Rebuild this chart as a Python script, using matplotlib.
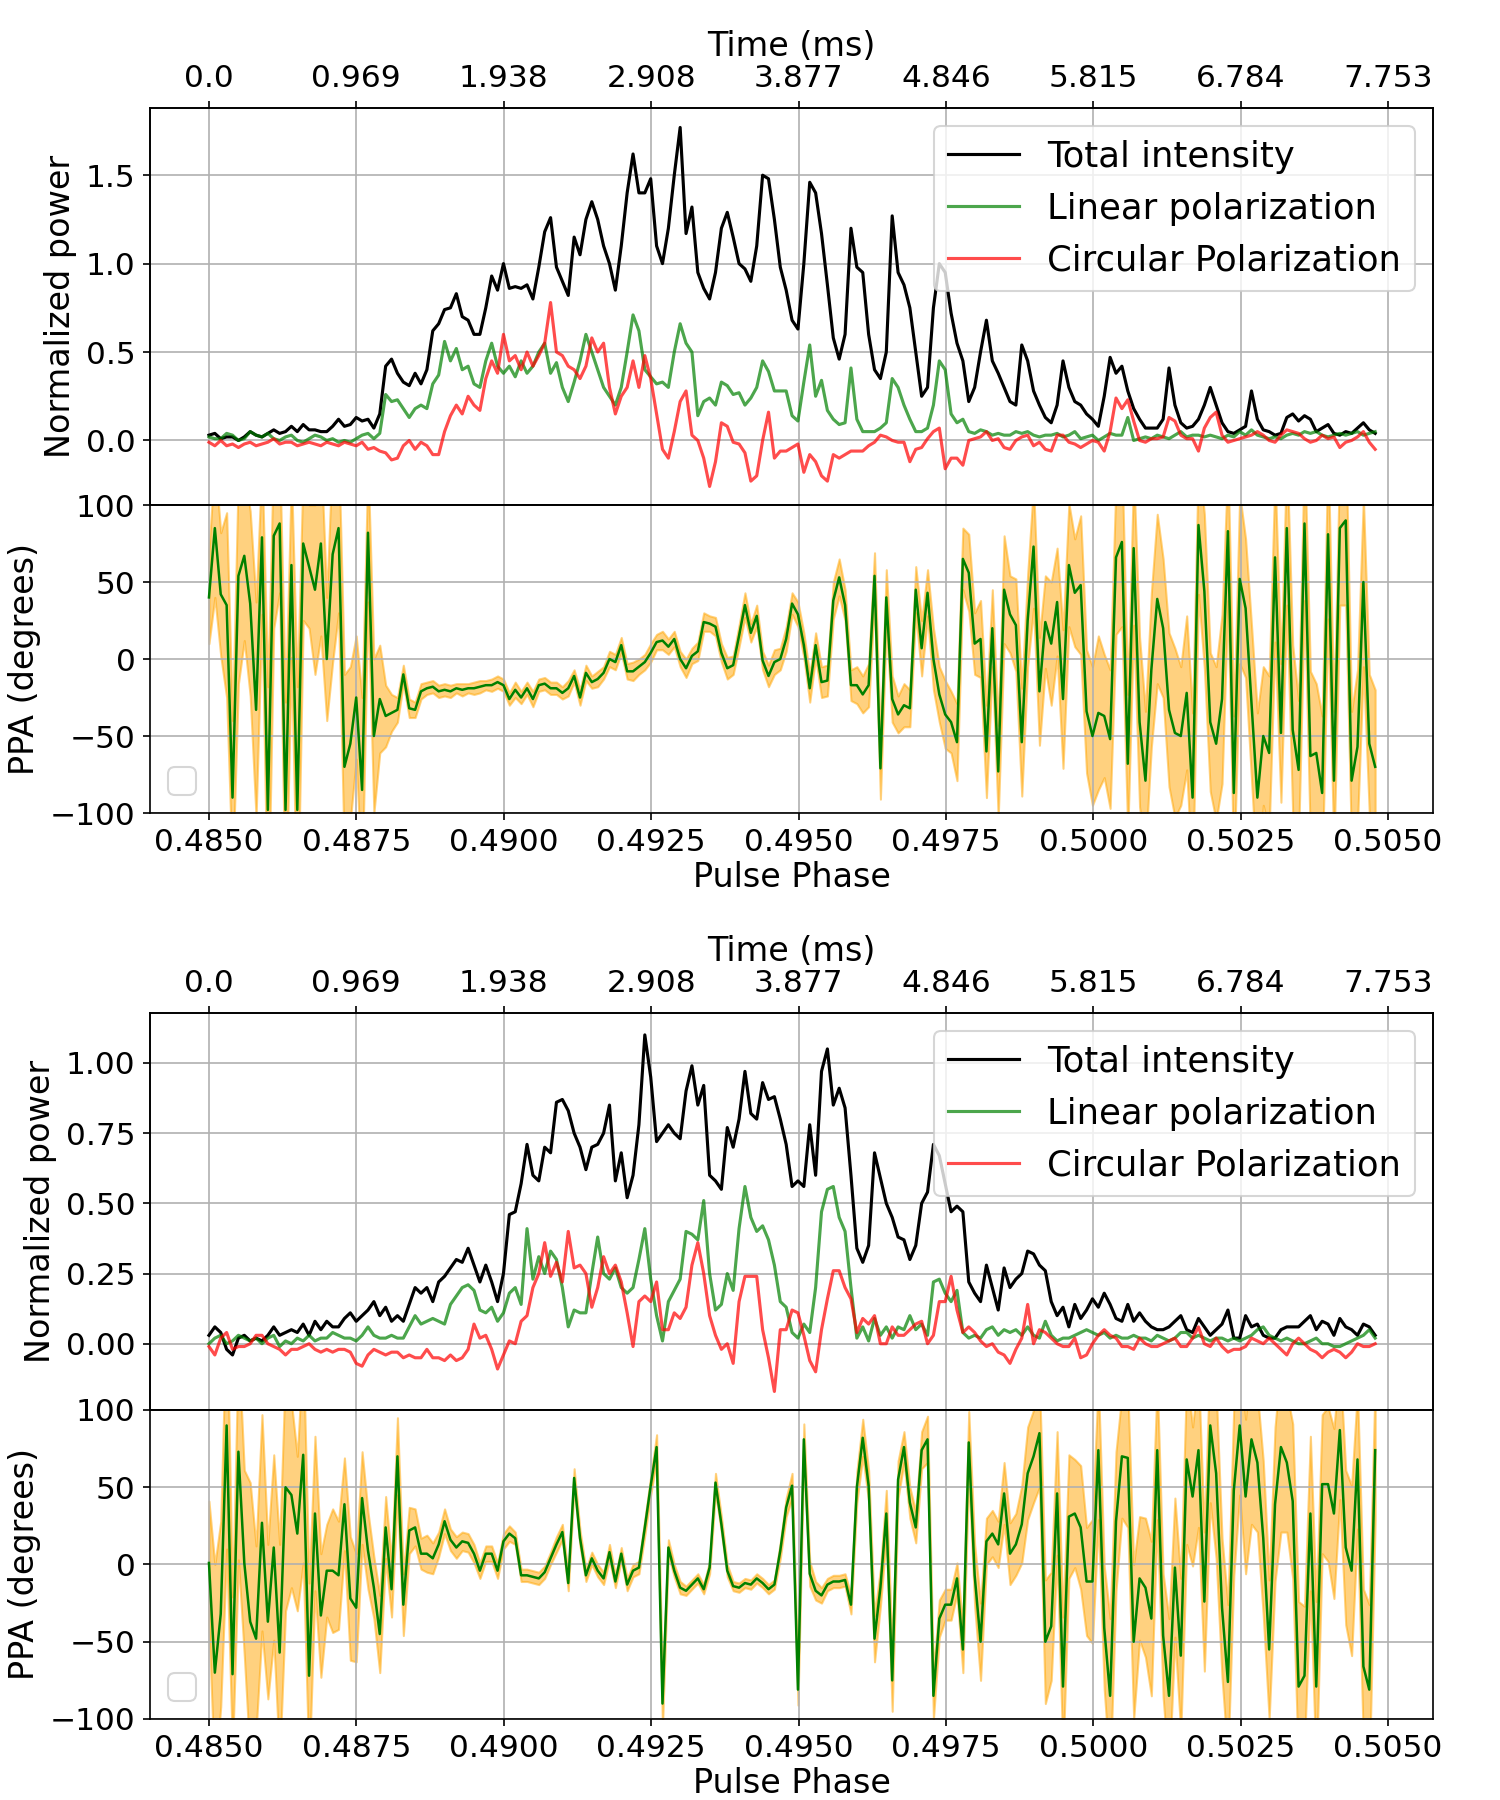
import numpy as np
import matplotlib
matplotlib.use('Agg')
import matplotlib.pyplot as plt

# pulse phase range covered by the profile
PHASE_START = 0.485
PHASE_END = 0.50478

phase_ticks = [0.485, 0.4875, 0.49, 0.4925, 0.495, 0.4975, 0.5, 0.5025, 0.505]
phase_labels = ['0.4850', '0.4875', '0.4900', '0.4925', '0.4950',
                '0.4975', '0.5000', '0.5025', '0.5050']
time_labels = ['0.0', '0.969', '1.938', '2.908', '3.877',
               '4.846', '5.815', '6.784', '7.753']

# ---- first pulse ----
I1 = [0.03, 0.04, 0.01, 0.02, 0.02, 0.00, 0.02, 0.05, 0.03, 0.02,
      0.04, 0.06, 0.04, 0.05, 0.08, 0.05, 0.09, 0.06, 0.06, 0.05,
      0.05, 0.08, 0.12, 0.08, 0.09, 0.13, 0.11, 0.12, 0.07, 0.15,
      0.42, 0.46, 0.38, 0.33, 0.31, 0.38, 0.32, 0.40, 0.62, 0.66,
      0.74, 0.75, 0.83, 0.70, 0.68, 0.60, 0.60, 0.75, 0.93, 0.85,
      1.00, 0.86, 0.87, 0.86, 0.88, 0.80, 0.98, 1.18, 1.26, 0.98,
      0.90, 0.82, 1.15, 1.05, 1.25, 1.35, 1.25, 1.10, 1.00, 0.85,
      1.10, 1.40, 1.62, 1.40, 1.40, 1.48, 1.10, 1.00, 1.20, 1.50,
      1.77, 1.17, 1.32, 0.95, 0.86, 0.80, 0.95, 1.20, 1.29, 1.15,
      1.00, 0.97, 0.90, 1.10, 1.50, 1.48, 1.25, 0.98, 0.85, 0.68,
      0.63, 1.00, 1.46, 1.40, 1.17, 0.88, 0.58, 0.46, 0.60, 1.20,
      0.98, 0.95, 0.60, 0.40, 0.35, 0.50, 1.27, 0.95, 0.88, 0.75,
      0.50, 0.25, 0.30, 0.75, 1.00, 0.95, 0.72, 0.55, 0.45, 0.22,
      0.30, 0.50, 0.68, 0.45, 0.38, 0.30, 0.22, 0.20, 0.54, 0.45,
      0.28, 0.20, 0.13, 0.10, 0.20, 0.45, 0.30, 0.22, 0.20, 0.15,
      0.12, 0.08, 0.25, 0.47, 0.38, 0.42, 0.28, 0.18, 0.12, 0.07,
      0.07, 0.07, 0.12, 0.41, 0.20, 0.10, 0.07, 0.08, 0.12, 0.20,
      0.30, 0.20, 0.10, 0.05, 0.04, 0.06, 0.08, 0.28, 0.12, 0.06,
      0.05, 0.03, 0.04, 0.13, 0.15, 0.11, 0.14, 0.12, 0.05, 0.07,
      0.09, 0.04, 0.03, 0.05, 0.04, 0.07, 0.10, 0.06, 0.04]
L1 = [0.02, 0.01, 0.01, 0.04, 0.03, 0.00, 0.01, 0.05, 0.03, 0.02,
      0.04, 0.01, 0.00, 0.02, 0.03, 0.00, -0.01, 0.01, 0.03, 0.02,
      0.00, 0.01, -0.01, 0.00, -0.01, 0.01, 0.03, 0.04, 0.01, 0.04,
      0.26, 0.22, 0.23, 0.18, 0.13, 0.18, 0.20, 0.18, 0.32, 0.37,
      0.56, 0.45, 0.52, 0.40, 0.42, 0.32, 0.30, 0.45, 0.55, 0.42,
      0.38, 0.42, 0.36, 0.45, 0.38, 0.42, 0.50, 0.55, 0.38, 0.44,
      0.30, 0.22, 0.33, 0.45, 0.60, 0.50, 0.40, 0.30, 0.25, 0.20,
      0.30, 0.50, 0.71, 0.62, 0.40, 0.36, 0.32, 0.33, 0.30, 0.50,
      0.66, 0.55, 0.50, 0.14, 0.22, 0.24, 0.20, 0.33, 0.31, 0.26,
      0.27, 0.20, 0.24, 0.30, 0.45, 0.39, 0.28, 0.28, 0.28, 0.14,
      0.11, 0.33, 0.54, 0.25, 0.34, 0.17, 0.12, 0.09, 0.10, 0.41,
      0.12, 0.05, 0.05, 0.05, 0.07, 0.10, 0.35, 0.30, 0.20, 0.12,
      0.05, 0.05, 0.07, 0.20, 0.45, 0.40, 0.15, 0.10, 0.12, 0.05,
      0.04, 0.06, 0.05, 0.03, 0.04, 0.03, 0.03, 0.05, 0.04, 0.05,
      0.03, 0.02, 0.03, 0.03, 0.04, 0.02, 0.03, 0.05, 0.01, 0.02,
      0.03, 0.00, 0.02, 0.04, 0.03, 0.03, 0.13, 0.00, 0.01, 0.02,
      0.01, 0.03, 0.02, 0.01, 0.03, 0.05, 0.02, 0.03, 0.03, 0.02,
      0.03, 0.02, 0.01, 0.03, 0.02, 0.05, 0.03, 0.06, 0.03, 0.02,
      0.01, 0.02, 0.01, 0.03, 0.04, 0.03, 0.05, 0.04, 0.05, 0.03,
      0.02, 0.03, 0.04, 0.03, 0.04, 0.05, 0.03, 0.04, 0.05]
V1 = [-0.01, -0.03, 0.00, -0.03, -0.02, -0.04, -0.02, -0.01, -0.03, -0.02,
      -0.01, 0.01, -0.02, -0.01, -0.01, -0.03, -0.02, -0.01, -0.02, -0.03,
      -0.01, -0.02, -0.03, -0.01, -0.02, -0.03, -0.01, -0.05, -0.04, -0.06,
      -0.07, -0.11, -0.10, -0.03, 0.00, -0.05, -0.01, -0.03, -0.08, -0.08,
      0.05, 0.14, 0.20, 0.15, 0.25, 0.20, 0.17, 0.35, 0.45, 0.38,
      0.60, 0.45, 0.48, 0.40, 0.50, 0.42, 0.48, 0.55, 0.78, 0.50,
      0.48, 0.42, 0.40, 0.35, 0.42, 0.58, 0.50, 0.55, 0.30, 0.15,
      0.25, 0.30, 0.45, 0.30, 0.48, 0.35, 0.15, -0.05, -0.10, 0.05,
      0.22, 0.28, 0.03, 0.00, -0.10, -0.26, -0.12, 0.10, 0.08, -0.01,
      -0.02, -0.07, -0.23, -0.20, 0.00, 0.16, -0.10, -0.06, -0.06, -0.04,
      -0.02, -0.18, -0.08, -0.12, -0.20, -0.23, -0.08, -0.10, -0.08, -0.06,
      -0.06, -0.06, -0.03, -0.01, 0.03, 0.02, 0.00, -0.01, -0.01, -0.12,
      -0.05, -0.04, 0.01, 0.05, 0.07, -0.16, -0.10, -0.10, -0.14, 0.00,
      0.01, 0.02, 0.05, 0.00, 0.01, -0.04, -0.05, 0.00, 0.02, 0.03,
      -0.03, -0.01, -0.05, -0.06, 0.03, 0.03, -0.01, -0.02, -0.04, -0.02,
      0.00, -0.01, -0.06, 0.05, 0.24, 0.18, 0.23, 0.11, 0.00, -0.01,
      0.01, 0.01, 0.02, 0.13, 0.11, 0.03, 0.01, 0.01, -0.06, 0.07,
      0.13, 0.16, 0.03, -0.01, 0.00, 0.01, 0.02, 0.03, 0.05, 0.03,
      0.00, -0.01, 0.03, 0.06, 0.05, 0.04, 0.01, -0.01, 0.00, 0.03,
      0.01, 0.02, -0.04, -0.01, 0.00, 0.02, 0.05, -0.01, -0.05]
PPA1 = [40, 85, 42, 35, -90, 54, 67, 36, -33, 79,
        -98, 80, 88, -98, 61, -98, 75, 60, 45, 75,
        0, 68, 85, -70, -55, -25, -85, 82, -50, -26,
        -37, -35, -33, -10, -32, -33, -21, -19, -18, -21,
        -20, -21, -19, -20, -19, -19, -18, -17, -17, -15,
        -17, -26, -20, -25, -19, -26, -17, -16, -19, -19,
        -22, -19, -11, -25, -9, -15, -13, -9, 0, -2,
        9, -8, -8, -5, -2, 4, 11, 12, 8, 13,
        0, -6, 2, 5, 24, 23, 21, 4, -6, -4,
        15, 35, 17, 28, -1, -11, -2, 0, 13, 36,
        29, 9, -19, 9, -15, -14, 38, 53, 35, -17,
        -17, -23, -17, 54, -71, 40, -26, -36, -30, -32,
        45, 7, 43, 0, -23, -36, -41, -54, 65, 56,
        10, 13, -60, 20, -73, 45, 29, 22, -54, 25,
        73, -21, 24, 10, 37, -26, 61, 43, 48, -34,
        -50, -35, -37, -52, 66, 76, -68, 72, -41, -79,
        -7, 39, 20, -33, -48, -50, -22, -90, 87, 44,
        -41, -55, -26, 83, -87, 52, 33, -28, -90, -50,
        -61, 66, -48, 85, -46, -72, 88, -63, -61, -87,
        81, -79, 85, 90, -79, -57, 50, -55, -70]
PPA1_err = [30, 45, 40, 60, 50, 70, 55, 60, 70, 50,
            80, 60, 45, 70, 60, 80, 50, 40, 55, 60,
            40, 70, 55, 60, 50, 40, 60, 45, 50, 35,
            20, 12, 8, 6, 6, 5, 5, 4, 4, 4,
            4, 4, 3, 4, 3, 4, 4, 3, 4, 4,
            4, 4, 5, 4, 4, 5, 4, 4, 4, 4,
            4, 5, 4, 5, 5, 4, 5, 4, 5, 5,
            5, 5, 6, 5, 5, 6, 5, 6, 5, 5,
            5, 6, 5, 6, 6, 5, 6, 6, 7, 6,
            7, 8, 6, 7, 6, 7, 8, 7, 8, 7,
            8, 8, 9, 8, 10, 10, 12, 12, 10, 10,
            12, 12, 14, 15, 20, 18, 15, 12, 14, 12,
            15, 18, 15, 20, 18, 22, 20, 25, 20, 25,
            20, 25, 30, 25, 30, 35, 25, 30, 35, 30,
            40, 35, 30, 40, 35, 45, 40, 35, 45, 40,
            45, 50, 40, 45, 50, 55, 45, 50, 55, 45,
            50, 55, 45, 50, 55, 45, 50, 55, 45, 50,
            45, 50, 55, 45, 50, 55, 45, 50, 55, 45,
            50, 55, 45, 50, 55, 45, 50, 55, 45, 50,
            55, 45, 50, 55, 45, 50, 55, 45, 50]

# ---- second pulse ----
I2 = [0.03, 0.06, 0.04, -0.02, -0.04, 0.02, 0.03, 0.01, 0.02, 0.01,
      0.03, 0.06, 0.03, 0.04, 0.05, 0.04, 0.07, 0.03, 0.08, 0.05,
      0.08, 0.06, 0.06, 0.09, 0.11, 0.08, 0.10, 0.12, 0.15, 0.10,
      0.13, 0.08, 0.10, 0.08, 0.14, 0.20, 0.18, 0.20, 0.15, 0.22,
      0.24, 0.27, 0.30, 0.29, 0.34, 0.28, 0.22, 0.28, 0.22, 0.15,
      0.25, 0.46, 0.47, 0.57, 0.71, 0.60, 0.58, 0.70, 0.68, 0.86,
      0.87, 0.83, 0.75, 0.70, 0.62, 0.70, 0.71, 0.75, 0.85, 0.58,
      0.68, 0.52, 0.60, 0.78, 1.10, 0.95, 0.72, 0.75, 0.78, 0.75,
      0.73, 0.90, 0.99, 0.85, 0.92, 0.60, 0.58, 0.55, 0.77, 0.70,
      0.80, 0.97, 0.82, 0.80, 0.93, 0.87, 0.88, 0.80, 0.71, 0.56,
      0.58, 0.56, 0.78, 0.60, 0.97, 1.05, 0.85, 0.91, 0.84, 0.60,
      0.34, 0.29, 0.35, 0.68, 0.59, 0.50, 0.45, 0.38, 0.37, 0.30,
      0.35, 0.50, 0.54, 0.71, 0.67, 0.57, 0.47, 0.49, 0.47, 0.22,
      0.18, 0.15, 0.28, 0.20, 0.12, 0.27, 0.20, 0.23, 0.25, 0.33,
      0.32, 0.28, 0.26, 0.15, 0.10, 0.13, 0.06, 0.14, 0.09, 0.12,
      0.16, 0.13, 0.18, 0.14, 0.09, 0.08, 0.14, 0.08, 0.11, 0.08,
      0.06, 0.05, 0.05, 0.06, 0.08, 0.10, 0.05, 0.04, 0.09, 0.06,
      0.03, 0.05, 0.07, 0.12, 0.02, 0.02, 0.10, 0.06, 0.07, 0.03,
      0.02, 0.02, 0.05, 0.06, 0.06, 0.06, 0.08, 0.10, 0.05, 0.08,
      0.07, 0.03, 0.09, 0.06, 0.05, 0.03, 0.07, 0.06, 0.03]
L2 = [0.00, 0.02, 0.03, 0.00, 0.01, 0.03, 0.02, 0.01, 0.02, 0.00,
      0.02, 0.03, -0.01, 0.01, 0.00, 0.02, 0.01, 0.03, 0.01, 0.02,
      0.02, 0.04, 0.03, 0.02, 0.02, 0.01, 0.03, 0.06, 0.03, 0.02,
      0.02, 0.03, 0.02, 0.02, 0.06, 0.10, 0.07, 0.08, 0.09, 0.08,
      0.07, 0.14, 0.17, 0.20, 0.21, 0.19, 0.12, 0.11, 0.13, 0.08,
      0.11, 0.18, 0.20, 0.14, 0.41, 0.23, 0.31, 0.25, 0.33, 0.30,
      0.20, 0.06, 0.12, 0.11, 0.11, 0.25, 0.38, 0.25, 0.23, 0.27,
      0.20, 0.18, 0.20, 0.30, 0.41, 0.23, 0.10, 0.01, 0.15, 0.19,
      0.23, 0.40, 0.39, 0.37, 0.51, 0.25, 0.12, 0.14, 0.25, 0.19,
      0.41, 0.56, 0.45, 0.40, 0.42, 0.37, 0.28, 0.15, 0.13, 0.04,
      0.02, 0.07, 0.04, 0.20, 0.47, 0.55, 0.56, 0.45, 0.40, 0.20,
      0.02, 0.06, 0.01, 0.09, 0.03, 0.06, 0.02, 0.06, 0.05, 0.10,
      0.05, 0.07, 0.03, 0.22, 0.23, 0.18, 0.15, 0.19, 0.04, 0.02,
      0.03, 0.02, 0.05, 0.06, 0.03, 0.05, 0.04, 0.05, 0.03, 0.06,
      0.03, 0.02, 0.08, 0.03, 0.01, 0.02, 0.02, 0.03, 0.04, 0.05,
      0.04, 0.03, 0.04, 0.02, 0.03, 0.02, 0.02, 0.03, 0.02, 0.02,
      0.01, 0.03, 0.02, 0.01, 0.02, 0.04, 0.04, 0.02, 0.03, 0.02,
      0.01, 0.02, 0.02, 0.01, 0.02, 0.01, 0.02, 0.03, 0.05, 0.06,
      0.03, 0.02, 0.01, 0.02, 0.01, 0.00, 0.00, 0.01, 0.02, 0.00,
      0.00, -0.01, -0.01, 0.00, 0.01, 0.02, 0.03, 0.05, 0.02]
V2 = [-0.01, -0.04, 0.02, 0.04, -0.02, -0.01, -0.01, 0.00, 0.03, 0.03,
      0.00, -0.01, -0.02, -0.04, -0.02, -0.02, -0.01, 0.00, -0.02, -0.03,
      -0.02, -0.03, -0.02, -0.02, -0.03, -0.07, -0.08, -0.04, -0.02, -0.03,
      -0.04, -0.03, -0.03, -0.05, -0.04, -0.05, -0.05, -0.02, -0.05, -0.05,
      -0.06, -0.04, -0.06, -0.05, -0.02, 0.07, 0.02, 0.03, -0.02, -0.09,
      -0.04, 0.01, 0.00, 0.08, 0.10, 0.20, 0.25, 0.36, 0.24, 0.29,
      0.22, 0.40, 0.27, 0.28, 0.25, 0.13, 0.20, 0.31, 0.25, 0.28,
      0.22, 0.11, -0.01, 0.15, 0.17, 0.15, 0.22, 0.05, 0.05, 0.11,
      0.09, 0.13, 0.28, 0.36, 0.25, 0.10, 0.03, -0.02, 0.00, -0.07,
      0.15, 0.24, 0.24, 0.24, 0.05, -0.05, -0.17, 0.05, 0.05, 0.12,
      0.11, 0.03, -0.06, -0.10, 0.05, 0.16, 0.26, 0.26, 0.20, 0.16,
      0.04, 0.09, 0.07, 0.10, 0.00, 0.00, 0.06, 0.03, 0.03, 0.05,
      0.07, 0.08, 0.00, 0.03, 0.15, 0.15, 0.24, 0.12, 0.04, 0.06,
      0.04, 0.01, -0.01, 0.00, -0.03, -0.04, -0.07, -0.02, 0.02, 0.14,
      0.00, 0.05, 0.04, 0.02, 0.00, -0.01, -0.01, 0.02, -0.05, -0.04,
      0.00, 0.03, 0.05, 0.03, 0.02, -0.01, -0.01, -0.02, 0.02, 0.00,
      -0.01, -0.01, 0.00, 0.01, 0.02, -0.01, -0.01, 0.02, 0.06, 0.00,
      -0.01, 0.02, -0.01, -0.03, -0.02, -0.02, -0.01, 0.02, 0.01, 0.00,
      0.02, 0.00, -0.02, -0.04, 0.00, 0.02, 0.00, -0.02, -0.03, -0.05,
      -0.03, -0.02, -0.03, -0.05, -0.03, 0.00, -0.01, -0.01, 0.00]
PPA2 = [1, -70, -32, 90, -71, 73, 1, -37, -48, 27,
        -37, 11, -57, 50, 45, 20, 71, -72, 33, -33,
        -4, -4, -7, 39, -22, -28, 43, 9, -15, -45,
        24, -16, 70, -26, 22, 24, 7, 7, 4, 13,
        28, 16, 11, 15, 14, 7, -4, 7, 7, -4,
        15, 20, 17, -7, -7, -8, -9, -5, 4, 13,
        21, -12, 56, 17, -7, 4, -4, -9, 8, -11,
        7, -13, -4, -2, 24, 51, 76, -90, 11, -4,
        -15, -17, -13, -9, -16, -2, 53, 26, -4, -14,
        -15, -12, -13, -9, -12, -16, -13, 9, 37, 51,
        -81, 81, -6, -17, -20, -13, -11, -11, -10, -26,
        50, 82, 51, -48, -15, 33, -75, 55, 76, 40,
        24, 74, 81, -85, -35, -26, -26, -9, -55, 79,
        -7, -50, 15, 20, 13, 46, 7, 13, 26, 59,
        70, 85, -50, -40, 46, -79, 31, 33, 24, -11,
        -11, 74, -41, -85, 28, 70, 69, -50, -9, -15,
        -35, 74, -46, -85, -2, -59, 68, 44, 74, -24,
        90, 59, -28, -76, 48, 90, 44, 81, 66, 17,
        -55, 39, 76, 66, 41, -79, -72, 33, -79, 52,
        52, 33, 87, 11, -4, 68, -66, -81, 74]
PPA2_err = [40, 70, 60, 80, 50, 70, 60, 90, 60, 70,
            50, 60, 70, 80, 60, 50, 70, 60, 50, 40,
            30, 40, 35, 30, 40, 35, 30, 25, 20, 25,
            20, 18, 25, 20, 15, 12, 10, 12, 10, 8,
            8, 7, 7, 6, 6, 6, 5, 5, 5, 5,
            5, 5, 4, 4, 4, 4, 4, 4, 4, 5,
            5, 5, 6, 5, 4, 4, 4, 4, 5, 4,
            4, 4, 4, 4, 5, 6, 8, 15, 5, 4,
            4, 3, 3, 3, 3, 4, 6, 5, 4, 3,
            3, 3, 3, 3, 3, 3, 3, 5, 6, 8,
            10, 10, 8, 6, 5, 4, 4, 4, 4, 6,
            10, 12, 10, 15, 12, 15, 20, 12, 10, 10,
            10, 12, 15, 15, 12, 10, 10, 10, 15, 20,
            20, 25, 15, 15, 15, 20, 20, 20, 25, 30,
            30, 35, 40, 35, 40, 45, 40, 35, 40, 35,
            40, 45, 40, 50, 45, 40, 45, 50, 40, 45,
            50, 45, 40, 50, 45, 50, 55, 45, 50, 45,
            50, 55, 45, 50, 55, 45, 50, 55, 45, 50,
            45, 50, 55, 45, 50, 55, 45, 50, 55, 45,
            50, 55, 45, 50, 55, 45, 50, 55, 45]

plt.rcParams.update({
    'xtick.labelsize': 15,
    'ytick.labelsize': 15,
    'axes.labelsize': 16,
    'legend.fontsize': 17,
})

LEFT = 0.1
WIDTH = 0.8553
XLIM = (0.484, 0.50576)


def phase_of(series):
    return np.linspace(PHASE_START, PHASE_END, len(series))


def plot_pulse(fig, top_box, ppa_box, I, L, V, ppa, ppa_err, ylim):
    ax = fig.add_axes([LEFT, top_box[0], WIDTH, top_box[1]])
    ax_ppa = fig.add_axes([LEFT, ppa_box[0], WIDTH, ppa_box[1]], sharex=ax)

    ax.plot(phase_of(I), I, color='black', lw=1.5, label='Total intensity')
    ax.plot(phase_of(L), L, color='green', alpha=0.7, lw=1.5,
            label='Linear polarization')
    ax.plot(phase_of(V), V, color='red', alpha=0.7, lw=1.5,
            label='Circular Polarization')
    ax.set_ylim(*ylim)
    ax.set_ylabel('Normalized power')
    ax.grid(True)
    ax.legend(loc='upper right')
    ax.tick_params(labelbottom=False)

    # time axis on top
    ax_t = ax.twiny()
    ax_t.set_xlim(*XLIM)
    ax_t.set_xticks(phase_ticks)
    ax_t.set_xticklabels(time_labels)
    ax_t.set_xlabel('Time (ms)')

    ppa = np.array(ppa, dtype=float)
    err = np.array(ppa_err, dtype=float)
    ph = phase_of(ppa)
    ax_ppa.fill_between(ph, ppa - err, ppa + err, color='orange', alpha=0.5)
    ax_ppa.plot(ph, ppa, color='green', lw=1.2)
    ax_ppa.set_ylim(-100, 100)
    ax_ppa.set_yticks([-100, -50, 0, 50, 100])
    ax_ppa.set_ylabel('PPA (degrees)')
    ax_ppa.set_xlabel('Pulse Phase', labelpad=2)
    ax_ppa.grid(True)
    ax_ppa.legend(loc='lower left')

    ax.set_xlim(*XLIM)
    ax_ppa.set_xticks(phase_ticks)
    ax_ppa.set_xticklabels(phase_labels)
    return ax, ax_ppa


fig = plt.figure(figsize=(10, 12), dpi=150)

plot_pulse(fig, (0.71944, 0.22056), (0.54833, 0.17111),
           I1, L1, V1, PPA1, PPA1_err, (-0.365, 1.88))
plot_pulse(fig, (0.21667, 0.22056), (0.045, 0.17167),
           I2, L2, V2, PPA2, PPA2_err, (-0.236, 1.178))

fig.savefig('out.png', dpi=150)
